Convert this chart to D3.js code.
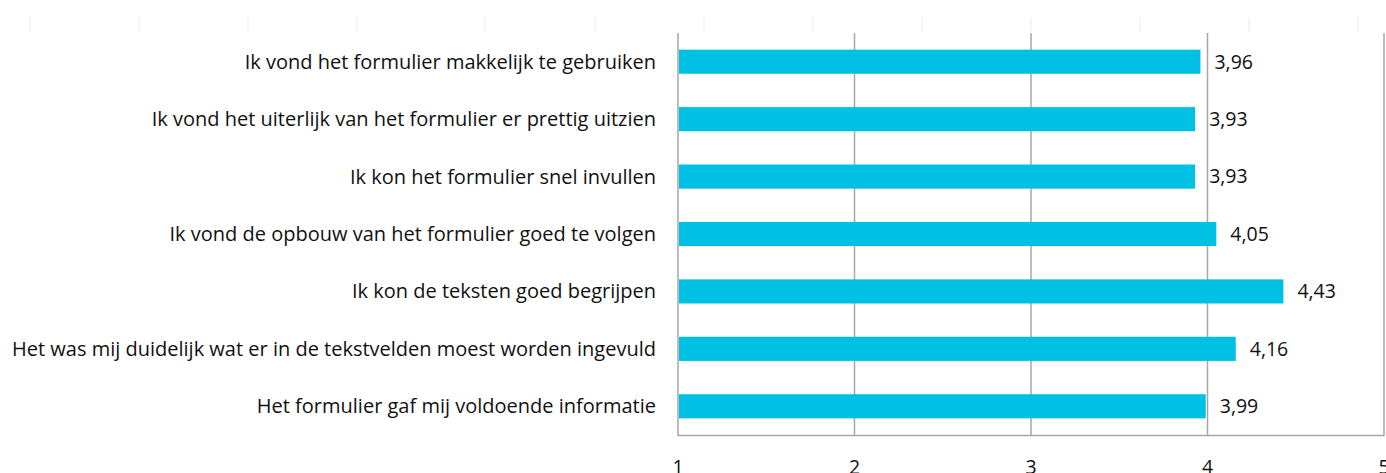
<!DOCTYPE html>
<meta charset="utf-8">
<title>Formulier</title>
<style>
    body { margin: 0; background: #fff; }
    text { font-family: "Open Sans", sans-serif; fill: #111; }
    .grid line { stroke: #a6a6a6; stroke-width: 1.5px; }
    .deco line { stroke: #ececec; stroke-width: 1px; }
</style>
<svg width="1386" height="473"></svg>
<script src="https://d3js.org/d3.v7.min.js"></script>
<script>

    var categories = [
        "Ik vond het formulier makkelijk te gebruiken",
        "Ik vond het uiterlijk van het formulier er prettig uitzien",
        "Ik kon het formulier snel invullen",
        "Ik vond de opbouw van het formulier goed te volgen",
        "Ik kon de teksten goed begrijpen",
        "Het was mij duidelijk wat er in de tekstvelden moest worden ingevuld",
        "Het formulier gaf mij voldoende informatie"
    ];
    var values = [3.96, 3.93, 3.93, 4.05, 4.43, 4.16, 3.99];
    var ticks = [1, 2, 3, 4, 5];
    // faint marks along the top edge (left over from a table above the chart)
    var topMarks = [30, 139, 248, 357, 485, 595, 704, 813, 922, 1031, 1140, 1249, 1358];

    var svg = d3.select("svg");

    var x = d3.scaleLinear().domain([1, 5]).range([678, 1384]);
    var y = d3.scaleBand().domain(categories).range([33, 435])
        .paddingInner(0.58).paddingOuter(0.29);

    svg.append("g").attr("class", "deco")
        .selectAll("line").data(topMarks).enter().append("line")
        .attr("x1", function (d) { return d; })
        .attr("x2", function (d) { return d; })
        .attr("y1", 17).attr("y2", 32);

    // gridlines
    svg.append("g").attr("class", "grid")
        .selectAll("line").data(ticks).enter().append("line")
        .attr("x1", function (d) { return x(d); })
        .attr("x2", function (d) { return x(d); })
        .attr("y1", 33).attr("y2", 436);

    svg.append("g").attr("class", "grid").append("line")
        .attr("x1", x(1)).attr("x2", x(5))
        .attr("y1", 435.5).attr("y2", 435.5);

    svg.append("g")
        .selectAll("rect").data(values).enter().append("rect")
        .attr("x", x(1) + 1)
        .attr("y", function (d, i) { return y(categories[i]); })
        .attr("width", function (d) { return x(d) - x(1) - 1; })
        .attr("height", y.bandwidth())
        .attr("fill", "#00c1e3");

    svg.append("g")
        .selectAll("text").data(values).enter().append("text")
        .attr("x", function (d) { return x(d) + 14; })
        .attr("y", function (d, i) { return y(categories[i]) + y.bandwidth() / 2; })
        .attr("dy", "0.35em")
        .style("font-size", "19.5px")
        .text(function (d) { return d.toFixed(2).replace(".", ","); });

    svg.append("g")
        .selectAll("text").data(categories).enter().append("text")
        .attr("x", 656)
        .attr("y", function (d) { return y(d) + y.bandwidth() / 2; })
        .attr("dy", "0.35em")
        .attr("text-anchor", "end")
        .style("font-size", "20px")
        .text(function (d) { return d; });

    svg.append("g")
        .selectAll("text").data(ticks).enter().append("text")
        .attr("x", function (d) { return x(d); })
        .attr("y", 474)
        .attr("text-anchor", "middle")
        .style("font-size", "19.5px")
        .text(function (d) { return d; });

</script>
